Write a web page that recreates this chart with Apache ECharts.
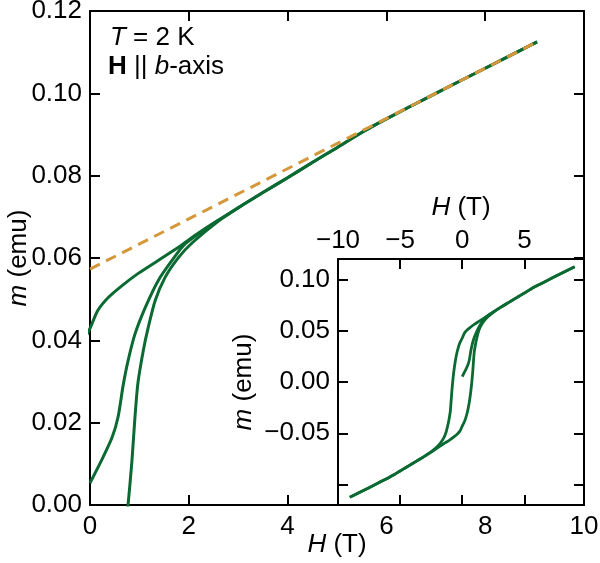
<!DOCTYPE html>
<html>
<head>
<meta charset="utf-8">
<script src="https://cdn.jsdelivr.net/npm/echarts@6/dist/echarts.min.js"></script>
<style>html,body{margin:0;padding:0;background:#fff}#c{width:600px;height:563px}</style>
</head>
<body>
<div id="c"></div>
<script>
// ---- data ----
const upperH = [9.05, 8, 7, 6, 5.5, 5, 4.5, 4, 3.5, 3.08, 2.6, 2.19, 1.79, 1.38, 0.97, 0.65, 0.37, 0.16, 0, -0.2, -0.4, -0.55, -0.68, -0.77, -0.85, -0.91, -0.97, -1.08, -1.18, -1.32, -1.52, -1.79, -2.07, -2.6, -3.08, -3.5, -4, -4.5, -5, -5.5, -6, -7, -8, -9.05];
const upperM = [0.1125, 0.1061, 0.1000, 0.0938, 0.0905, 0.0868, 0.0832, 0.0795, 0.0759, 0.0728, 0.0692, 0.0660, 0.0626, 0.0594, 0.0562, 0.0533, 0.0504, 0.0473, 0.0429, 0.0380, 0.0300, 0.0210, 0.0100, 0.0000, -0.0110, -0.0210, -0.0295, -0.0376, -0.0432, -0.0497, -0.0553, -0.0601, -0.0637, -0.0690, -0.0728, -0.0759, -0.0795, -0.0832, -0.0868, -0.0905, -0.0938, -0.1000, -0.1061, -0.1125];
const lowerH = [-9.05, -8, -7, -6, -5.5, -5, -4.5, -4, -3.5, -3.08, -2.6, -2.19, -1.79, -1.38, -0.97, -0.65, -0.37, -0.16, 0, 0.2, 0.4, 0.55, 0.68, 0.77, 0.85, 0.91, 0.97, 1.08, 1.18, 1.32, 1.52, 1.79, 2.07, 2.6, 3.08, 3.5, 4, 4.5, 5, 5.5, 6, 7, 8, 9.05];
const lowerM = [-0.1125, -0.1061, -0.1000, -0.0938, -0.0905, -0.0868, -0.0832, -0.0795, -0.0759, -0.0728, -0.0692, -0.0660, -0.0626, -0.0594, -0.0562, -0.0533, -0.0504, -0.0473, -0.0430, -0.0380, -0.0300, -0.0210, -0.0100, 0.0000, 0.0109, 0.0213, 0.0296, 0.0376, 0.0432, 0.0497, 0.0553, 0.0601, 0.0637, 0.0690, 0.0728, 0.0759, 0.0795, 0.0832, 0.0868, 0.0905, 0.0938, 0.1000, 0.1061, 0.1125];
const virginH = [0, 0.24, 0.45, 0.57, 0.67, 0.77, 0.91, 1.12, 1.38, 1.66, 1.93, 2.6];
const virginM = [0.0053, 0.0110, 0.0165, 0.0215, 0.0290, 0.0350, 0.0415, 0.0480, 0.0545, 0.0594, 0.0635, 0.0692];
const fitH = [0, 9.05];
const fitM = [0.0573, 0.1125];
const insetXLabels = [-10, -5, 0, 5];
const insetYTicks = [-0.10, -0.05, 0, 0.05, 0.10];
const insetYLabels = [-0.05, 0, 0.05, 0.10];

// ---- styling ----
const GREEN = '#0b6a32';
const ORANGE = '#d4983a';
const FONT = 'Liberation Sans, Arial, Helvetica, sans-serif';
const FS = 26;
const pairs = (xs, ys) => xs.map((x, i) => [x, ys[i]]);
const minus = v => String(v).replace('-', '\u2212');

const lineCommon = { color: '#000', width: 2 };
const tickStyle = { color: '#000', width: 2 };
function axisBase(extra) {
  return Object.assign({
    type: 'value',
    nameMoveOverlap: false,
    axisLine: { show: true, onZero: false, lineStyle: lineCommon },
    axisTick: { show: true, inside: true, length: 10, lineStyle: tickStyle },
    splitLine: { show: false },
    axisLabel: { show: false },
  }, extra);
}
const labelStyle = { color: '#000', fontSize: FS, fontFamily: FONT };
const nameStyle = {
  color: '#000', fontSize: FS, fontFamily: FONT,
  rich: { i: { fontStyle: 'italic', fontSize: FS, fontFamily: FONT, color: '#000' } }
};
function green(xi, yi, d, w, z) {
  return { type: 'line', xAxisIndex: xi, yAxisIndex: yi, data: d, smooth: 0.25,
    showSymbol: false, symbol: 'none', lineStyle: { color: GREEN, width: w }, z: z, clip: true };
}

const chart = echarts.init(document.getElementById('c'), null, { renderer: 'canvas' });
const option = {
  animation: false,
  backgroundColor: '#fff',
  grid: [
    { left: 90, right: 16, top: 11, bottom: 58, show: false, containLabel: false, outerBoundsMode: 'none' },
    { left: 338, right: 16, top: 259, bottom: 58, show: true, backgroundColor: '#fff', borderWidth: 0, z: 5, containLabel: false, outerBoundsMode: 'none' }
  ],
  xAxis: [
    axisBase({ gridIndex: 0, position: 'bottom', min: 0, max: 10, interval: 2,
      axisLabel: { show: true, margin: 9, ...labelStyle },
      name: '{i|H} (T)', nameLocation: 'middle', nameGap: 27, nameTextStyle: nameStyle }),
    axisBase({ gridIndex: 0, position: 'top', min: 0, max: 10, interval: 2 }),
    axisBase({ gridIndex: 1, position: 'top', min: -10, max: 9.8, interval: 5, z: 6,
      axisLabel: { show: true, margin: 5, customValues: insetXLabels, formatter: v => minus(v), ...labelStyle },
      name: '{i|H} (T)', nameLocation: 'middle', nameGap: 38, nameTextStyle: nameStyle }),
    axisBase({ gridIndex: 1, position: 'bottom', min: -10, max: 9.8, interval: 5, z: 6 })
  ],
  yAxis: [
    axisBase({ gridIndex: 0, position: 'left', min: 0, max: 0.12, interval: 0.02,
      axisLabel: { show: true, margin: 8, formatter: v => v.toFixed(2), ...labelStyle },
      name: '{i|m} (emu)', nameLocation: 'middle', nameGap: 58, nameTextStyle: nameStyle }),
    axisBase({ gridIndex: 0, position: 'right', min: 0, max: 0.12, interval: 0.02 }),
    axisBase({ gridIndex: 1, position: 'left', min: -0.12, max: 0.12, z: 6,
      axisTick: { show: true, inside: true, length: 10, customValues: insetYTicks, lineStyle: tickStyle },
      axisLabel: { show: true, margin: 8, customValues: insetYLabels, formatter: v => minus(v.toFixed(2)), ...labelStyle },
      name: '{i|m} (emu)', nameLocation: 'middle', nameGap: 81, nameTextStyle: nameStyle }),
    axisBase({ gridIndex: 1, position: 'right', min: -0.12, max: 0.12, z: 6,
      axisTick: { show: true, inside: true, length: 10, customValues: insetYTicks, lineStyle: tickStyle } })
  ],
  series: [
    green(0, 0, pairs(upperH, upperM), 3, 2),
    green(0, 0, pairs(lowerH, lowerM), 3, 2),
    green(0, 0, pairs(virginH, virginM), 3, 2),
    { type: 'line', xAxisIndex: 0, yAxisIndex: 0, data: pairs(fitH, fitM), showSymbol: false, symbol: 'none',
      lineStyle: { color: ORANGE, width: 3, type: [11, 7] }, z: 3 },
    green(2, 2, pairs(upperH, upperM), 2.8, 7),
    green(2, 2, pairs(lowerH, lowerM), 2.8, 7),
    green(2, 2, pairs(virginH, virginM), 2.8, 7)
  ],
  graphic: [
    { type: 'text', x: 110, y: 38, z: 10, style: { text: '{i|T} = 2 K', fill: '#000', fontSize: FS, fontFamily: FONT, verticalAlign: 'middle',
      rich: { i: { fontStyle: 'italic', fontSize: FS, fontFamily: FONT, fill: '#000' } } } },
    { type: 'text', x: 108, y: 67, z: 10, style: { text: '{b|H} || {i|b}-axis', fill: '#000', fontSize: FS, fontFamily: FONT, verticalAlign: 'middle',
      rich: { b: { fontWeight: 'bold', fontSize: FS, fontFamily: FONT, fill: '#000' }, i: { fontStyle: 'italic', fontSize: FS, fontFamily: FONT, fill: '#000' } } } }
  ]
};
chart.setOption(option);
</script>
</body>
</html>
